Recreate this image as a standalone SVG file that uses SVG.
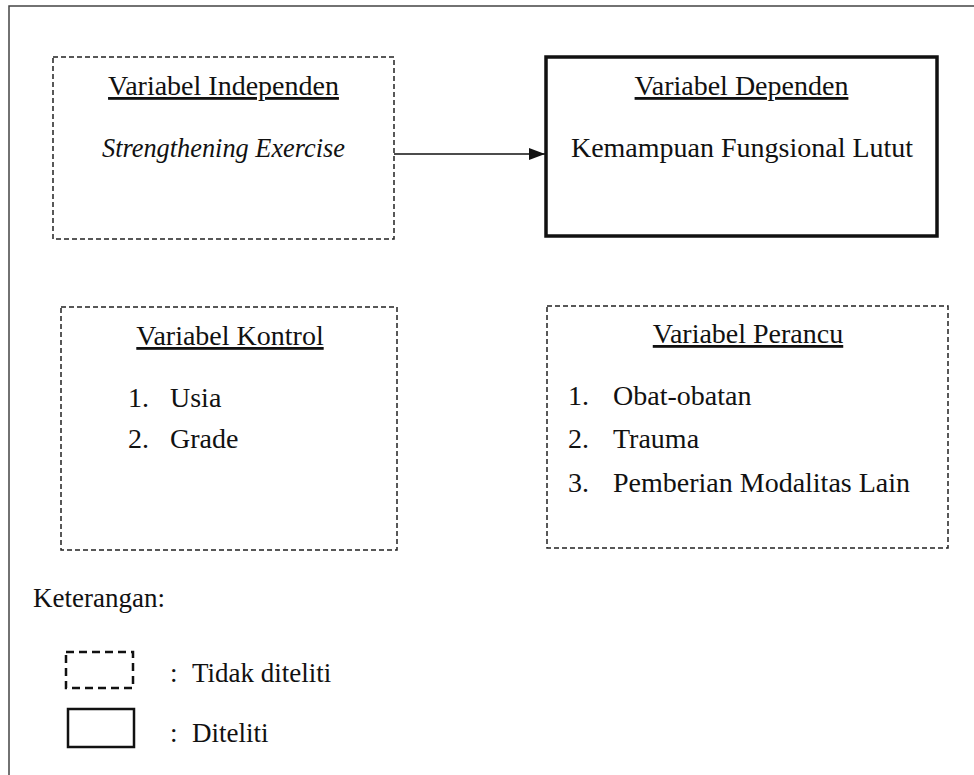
<svg xmlns="http://www.w3.org/2000/svg" width="974" height="775" viewBox="0 0 974 775">
<style>
text{font-family:"Liberation Serif","Times New Roman",serif;font-size:28px;fill:#111}
.t{text-anchor:middle;text-decoration:underline}
.it{font-style:italic}
.dash{fill:none;stroke:#222;stroke-width:1.5;stroke-dasharray:5 3}
.solid{fill:none;stroke:#111;stroke-width:3.5}
.lg{font-size:27px}
</style>
<defs>
<marker id="arr" markerWidth="16" markerHeight="12" refX="16" refY="6" orient="auto" markerUnits="userSpaceOnUse">
<path d="M0,0 L16,6 L0,12 Z" fill="#111"/>
</marker>
</defs>
<rect width="974" height="775" fill="#fff"/>
<path d="M9,775 L9,6 L974,6" fill="none" stroke="#444" stroke-width="1.5"/>

<g id="independen">
<rect class="dash" x="53" y="57" width="341" height="182"/>
<text class="t" x="223.5" y="95">Variabel Independen</text>
<text class="it" x="102" y="157" textLength="243" lengthAdjust="spacingAndGlyphs">Strengthening Exercise</text>
</g>

<g id="dependen">
<rect class="solid" x="546" y="57" width="391" height="179"/>
<text class="t" x="741.5" y="95">Variabel Dependen</text>
<text x="742" y="157" text-anchor="middle">Kemampuan Fungsional Lutut</text>
</g>

<g id="kontrol">
<rect class="dash" x="61" y="307" width="336" height="243"/>
<text class="t" x="230" y="345">Variabel Kontrol</text>
<text x="128" y="407">1.</text><text x="170" y="407">Usia</text>
<text x="128" y="448">2.</text><text x="170" y="448">Grade</text>
</g>

<g id="perancu">
<rect class="dash" x="547" y="306" width="401" height="242"/>
<text class="t" x="748" y="343">Variabel Perancu</text>
<text x="568" y="405">1.</text><text x="613" y="405">Obat-obatan</text>
<text x="568" y="448">2.</text><text x="613" y="448">Trauma</text>
<text x="568" y="492">3.</text><text x="613" y="492">Pemberian Modalitas Lain</text>
</g>

<g id="connectors">
<line x1="394" y1="154" x2="545" y2="154" stroke="#111" stroke-width="1.5" marker-end="url(#arr)"/>
</g>

<g id="legend">
<text class="lg" x="33" y="607">Keterangan:</text>
<rect x="66" y="652" width="67" height="36" fill="none" stroke="#111" stroke-width="2.5" stroke-dasharray="8 5"/>
<text class="lg" x="170" y="682">:</text><text class="lg" x="192" y="682">Tidak diteliti</text>
<rect x="68" y="709" width="66" height="38" fill="none" stroke="#111" stroke-width="2.5"/>
<text class="lg" x="170" y="742">:</text><text class="lg" x="192" y="742">Diteliti</text>
</g>
</svg>
